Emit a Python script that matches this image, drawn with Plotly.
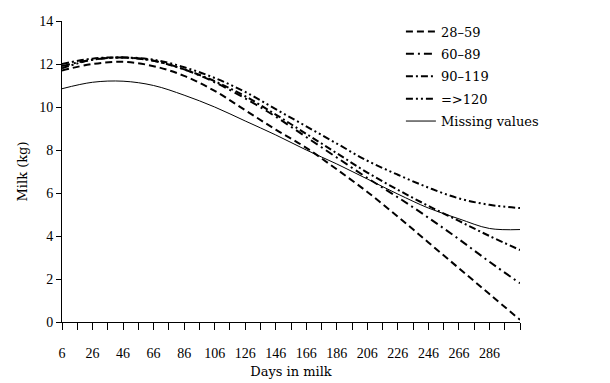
import plotly.graph_objects as go

days = [6, 26, 46, 66, 86, 106, 126, 146, 166, 186, 206, 226, 246, 266, 286, 306]

milk_28_59 = [11.7, 12.0, 12.1, 11.9, 11.45, 10.75, 9.85, 8.95, 8.1, 7.1, 6.05, 4.9, 3.7, 2.5, 1.3, 0.1]
milk_60_89 = [11.9, 12.2, 12.3, 12.15, 11.75, 11.15, 10.4, 9.55, 8.6, 7.65, 6.7, 5.8, 4.85, 3.85, 2.8, 1.8]
milk_90_119 = [12.0, 12.25, 12.3, 12.15, 11.75, 11.2, 10.5, 9.65, 8.75, 7.85, 6.95, 6.15, 5.4, 4.7, 4.0, 3.35]
milk_120 = [11.8, 12.2, 12.3, 12.2, 11.85, 11.35, 10.7, 9.9, 9.1, 8.3, 7.5, 6.85, 6.25, 5.75, 5.45, 5.3]
milk_missing = [10.85, 11.15, 11.2, 11.0, 10.55, 10.0, 9.35, 8.7, 8.0, 7.35, 6.65, 5.95, 5.3, 4.8, 4.35, 4.3]

series_names = ["28\u201359", "60\u201389", "90\u2013119", "=>120", "Missing values"]
series_values = [milk_28_59, milk_60_89, milk_90_119, milk_120, milk_missing]
dashes = ["7px,4px", "8px,4px,2px,4px", "7px,3px,2px,3px", "7px,3px,2px,3px,2px,3px", "solid"]
widths = [2, 2, 2, 2, 1]

x_tick_labels = list(range(6, 287, 20))
y_tick_labels = list(range(0, 15, 2))

fig = go.Figure()
for i, (name, vals) in enumerate(zip(series_names, series_values)):
    fig.add_trace(go.Scatter(
        x=days, y=vals, name=name, mode="lines",
        line=dict(color="black", width=widths[i], dash=dashes[i], shape="spline", smoothing=1.0),
        legendgroup=f"g{i}",
    ))

tick_font = "Liberation Serif"
text_font = "DejaVu Serif"
fig.update_layout(
    width=610, height=383,
    margin=dict(l=62, r=90, t=21, b=61),
    paper_bgcolor="white", plot_bgcolor="white",
    font=dict(family=tick_font, size=14, color="black"),
    showlegend=True,
    legend=dict(x=0.74, y=1.015, xanchor="left", yanchor="top",
                bgcolor="rgba(0,0,0,0)", font=dict(family=text_font, size=13),
                tracegroupgap=2.5, itemwidth=30),
    xaxis=dict(
        range=[6, 306], showgrid=False, zeroline=False, automargin=False,
        showline=True, linecolor="black", linewidth=1,
        tickmode="array", tickvals=x_tick_labels, ticktext=[str(v) for v in x_tick_labels],
        ticks="outside", ticklen=7, tickcolor="black", ticklabelstandoff=11,
        minor=dict(ticks="outside", tick0=6, dtick=10, ticklen=7, tickcolor="black"),
        title=dict(text="Days in milk", standoff=7, font=dict(family=text_font, size=13)),
        tickfont=dict(size=14),
    ),
    yaxis=dict(
        range=[0, 14], showgrid=False, zeroline=False, automargin=False,
        showline=True, linecolor="black", linewidth=1,
        tickvals=y_tick_labels, ticks="outside", ticklen=5, tickcolor="black",
        title=dict(text="Milk (kg)", standoff=8, font=dict(family=text_font, size=13)),
        tickfont=dict(size=14),
    ),
)

fig.write_html("out.html")
